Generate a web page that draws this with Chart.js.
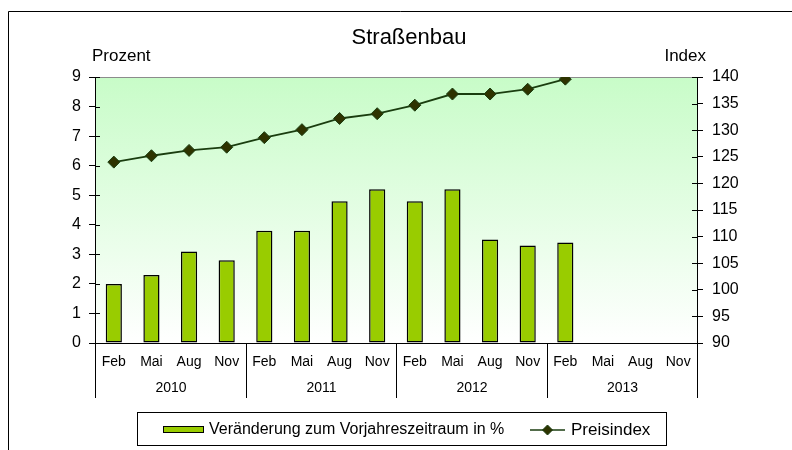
<!DOCTYPE html>
<html><head><meta charset="utf-8">
<script src="https://cdn.jsdelivr.net/npm/chart.js@4/dist/chart.umd.min.js"></script>
<style>html,body{margin:0;padding:0;background:#fff}#wrap{width:792px;height:450px;position:relative}canvas{display:block}</style>
</head><body><div id="wrap"><canvas id="c" width="792" height="450"></canvas></div>
<script>
const months = ['Feb','Mai','Aug','Nov','Feb','Mai','Aug','Nov','Feb','Mai','Aug','Nov','Feb','Mai','Aug','Nov'];
const years = ['2010','2011','2012','2013'];
const changePct = [2.0,2.3,3.1,2.8,3.8,3.8,4.8,5.2,4.8,5.2,3.5,3.3,3.4,null,null,null];
const priceIndex = [124.0,125.2,126.2,126.8,128.6,130.1,132.2,133.1,134.7,136.8,136.8,137.7,139.6,null,null,null];
const leftAxis = {min:0, max:9, step:1};
const rightAxis = {min:90, max:140, step:5};
const title = 'Straßenbau';
const leftTitle = 'Prozent';
const rightTitle = 'Index';
const barLabel = 'Veränderung zum Vorjahreszeitraum in %';
const lineLabel = 'Preisindex';

const FONT = '"Liberation Sans", Arial, sans-serif';
const BAR = '#99cc00';
const LINE = '#1a3d0f';
const MARK = '#2e3300';

const decor = {
  id:'decor',
  beforeDraw(chart){
    const ctx = chart.ctx, a = chart.chartArea;
    ctx.save();
    ctx.fillStyle = '#fff'; ctx.fillRect(0,0,chart.width,chart.height);
    const g = ctx.createLinearGradient(0,a.top,0,a.bottom);
    g.addColorStop(0,'#c8fcc8'); g.addColorStop(1,'#ffffff');
    ctx.fillStyle = g; ctx.fillRect(a.left,a.top,a.right-a.left,a.bottom-a.top);
    ctx.strokeStyle = '#8c8c8c'; ctx.lineWidth = 1;
    ctx.beginPath(); ctx.moveTo(a.left,a.top+0.5); ctx.lineTo(a.right,a.top+0.5); ctx.stroke();
    ctx.strokeStyle = '#000';
    ctx.beginPath(); ctx.moveTo(8.5,450); ctx.lineTo(8.5,11.5); ctx.lineTo(792,11.5); ctx.stroke();
    ctx.restore();
  },
  afterDraw(chart){
    const ctx = chart.ctx, a = chart.chartArea;
    ctx.save();
    ctx.fillStyle = '#000'; ctx.strokeStyle = '#000'; ctx.lineWidth = 1;
    ctx.textBaseline = 'middle';
    ctx.font = '22px ' + FONT; ctx.textAlign = 'center';
    ctx.fillText(title, 409, 38);
    ctx.font = '17px ' + FONT; ctx.textAlign = 'left';
    ctx.fillText(leftTitle, 92, 56);
    ctx.textAlign = 'right';
    ctx.fillText(rightTitle, 706, 56);
    const y = chart.scales.y, y1 = chart.scales.y1;
    ctx.beginPath();
    y.ticks.forEach((t,i)=>{ const p = Math.round(y.getPixelForTick(i))+0.5; ctx.moveTo(a.left,p); ctx.lineTo(a.left+5,p); });
    y1.ticks.forEach((t,i)=>{ const p = Math.round(y1.getPixelForTick(i))+0.5; ctx.moveTo(a.right,p); ctx.lineTo(a.right-5,p); });
    ctx.stroke();
    const x = chart.scales.x;
    const n = months.length, per = n / years.length;
    const bounds = [];
    for (let k=0;k<=years.length;k++){
      const i = k*per;
      let bx;
      if (i===0) bx = a.left; else if (i===n) bx = a.right;
      else bx = (x.getPixelForTick(i-1)+x.getPixelForTick(i))/2;
      bounds.push(Math.round(bx)+0.5);
    }
    ctx.beginPath();
    bounds.forEach(bx=>{ ctx.moveTo(bx,a.bottom); ctx.lineTo(bx,398); });
    ctx.stroke();
    ctx.font = '14px ' + FONT; ctx.textAlign = 'center';
    years.forEach((yr,k)=>{ ctx.fillText(yr,(bounds[k]+bounds[k+1])/2,388); });
    // legend
    ctx.strokeRect(137.5,412.5,529,33);
    ctx.fillStyle = BAR; ctx.fillRect(163.5,426.5,40,6);
    ctx.strokeRect(163.5,426.5,40,6);
    ctx.fillStyle = '#000'; ctx.textAlign = 'left'; ctx.font = '16px ' + FONT;
    ctx.fillText(barLabel, 209, 430);
    ctx.strokeStyle = LINE; ctx.lineWidth = 1.5;
    ctx.beginPath(); ctx.moveTo(530,430); ctx.lineTo(565,430); ctx.stroke();
    ctx.fillStyle = MARK; ctx.strokeStyle = LINE; ctx.lineWidth = 1;
    ctx.beginPath(); ctx.moveTo(542.5,430); ctx.lineTo(547.5,425); ctx.lineTo(552.5,430); ctx.lineTo(547.5,435); ctx.closePath(); ctx.fill(); ctx.stroke();
    ctx.fillStyle = '#000';
    ctx.font = '17px ' + FONT;
    ctx.fillText(lineLabel, 571, 430);
    ctx.restore();
  }
};

new Chart(document.getElementById('c'), {
  data:{
    labels: months,
    datasets:[
      {type:'line', label: lineLabel, data: priceIndex, yAxisID:'y1', order:0,
       borderColor: LINE, borderWidth:1.8, pointStyle:'rectRot', pointRadius:6, pointHoverRadius:6,
       pointBackgroundColor: MARK, pointBorderColor: LINE, pointBorderWidth:1, tension:0, spanGaps:false},
      {type:'bar', label: barLabel, data: changePct, yAxisID:'y', order:1,
       backgroundColor: BAR, borderColor:'#000', borderWidth:1.5, borderSkipped:false,
       barPercentage:0.43, categoryPercentage:1}
    ]
  },
  options:{
    responsive:false, animation:false, devicePixelRatio:1,
    layout:{padding:{top:77,left:0,right:0,bottom:0}},
    plugins:{legend:{display:false}, tooltip:{enabled:false}, title:{display:false}},
    scales:{
      x:{type:'category', offset:true,
         grid:{display:false, drawTicks:false},
         border:{display:true,color:'#000',width:1},
         ticks:{color:'#000', font:{family:FONT,size:14}, padding:11, maxRotation:0, autoSkip:false},
         afterFit(s){ s.height = 107; }},
      y:{position:'left', min:leftAxis.min, max:leftAxis.max,
         grid:{drawOnChartArea:false, tickLength:6, color:'#000'},
         border:{color:'#000',width:1},
         ticks:{stepSize:leftAxis.step, color:'#000', font:{family:FONT,size:16}, padding:8},
         afterFit(s){ s.width = 95; }},
      y1:{position:'right', min:rightAxis.min, max:rightAxis.max,
         grid:{drawOnChartArea:false, tickLength:6, color:'#000'},
         border:{color:'#000',width:1},
         ticks:{stepSize:rightAxis.step, color:'#000', font:{family:FONT,size:16}, padding:9},
         afterFit(s){ s.width = 95; }}
    }
  },
  plugins:[decor]
});
</script>
</body></html>
